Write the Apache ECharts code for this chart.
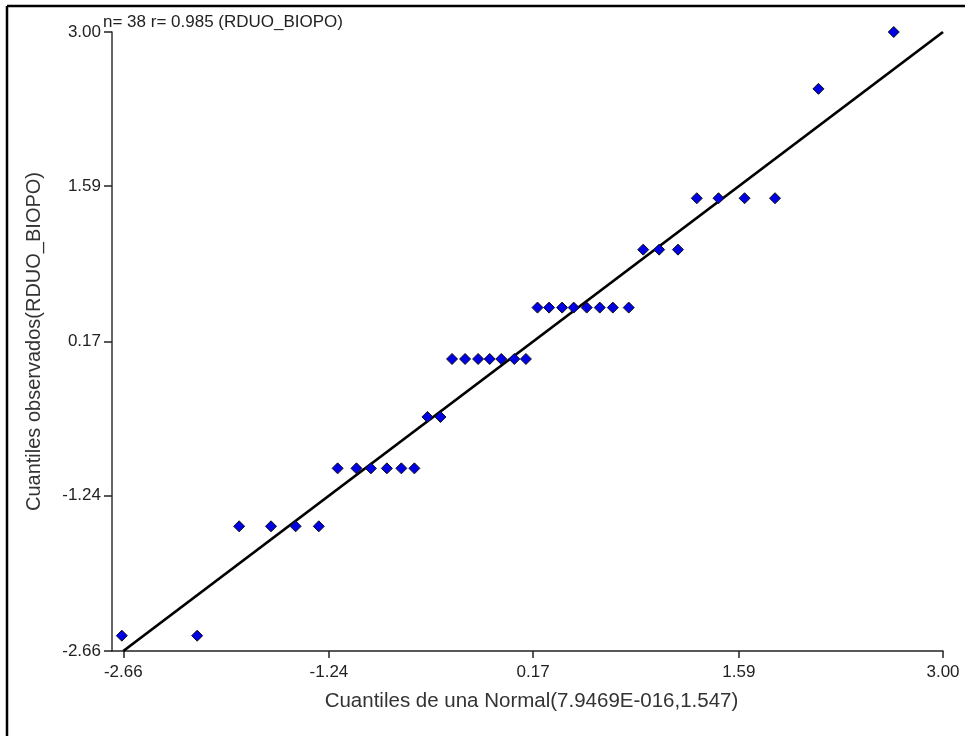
<!DOCTYPE html>
<html>
<head>
<meta charset="utf-8">
<script src="https://cdn.jsdelivr.net/npm/echarts@6/dist/echarts.min.js"></script>
<style>
html,body{margin:0;padding:0;background:#fff;}
#chart{width:965px;height:736px;}
</style>
</head>
<body>
<div id="chart"></div>
<script>
// Theoretical normal quantiles (x) and observed quantiles (y)
var theoretical = [-2.67, -2.15, -1.86, -1.64, -1.47, -1.31, -1.18, -1.05, -0.95, -0.84,
  -0.74, -0.65, -0.56, -0.47, -0.39, -0.30, -0.21, -0.13, -0.05, 0.04,
  0.12, 0.20, 0.28, 0.37, 0.45, 0.54, 0.63, 0.72, 0.83, 0.93,
  1.04, 1.17, 1.30, 1.45, 1.63, 1.84, 2.14, 2.66];
var observed = [-2.52, -2.52, -1.52, -1.52, -1.52, -1.52, -0.99, -0.99, -0.99, -0.99,
  -0.99, -0.99, -0.52, -0.52, 0.01, 0.01, 0.01, 0.01, 0.01, 0.01,
  0.01, 0.48, 0.48, 0.48, 0.48, 0.48, 0.48, 0.48, 0.48, 1.01,
  1.01, 1.01, 1.48, 1.48, 1.48, 1.48, 2.48, 3.00];
var refLineX = [-2.66, 3.00];
var refLineY = [-2.66, 3.00];
var xTicks = [-2.66, -1.24, 0.17, 1.59, 3.00];
var yTicks = [-2.66, -1.24, 0.17, 1.59, 3.00];
var titleText = 'n= 38 r= 0.985 (RDUO_BIOPO)';
var xName = 'Cuantiles de una Normal(7.9469E-016,1.547)';
var yName = 'Cuantiles observados(RDUO_BIOPO)';

var points = theoretical.map(function (x, i) { return [x, observed[i]]; });
var linePts = refLineX.map(function (x, i) { return [x, refLineY[i]]; });

var chart = echarts.init(document.getElementById('chart'), null, {renderer: 'canvas'});
var font = 'Liberation Sans, Arial, sans-serif';
chart.setOption({
  animation: false,
  backgroundColor: '#ffffff',
  grid: {left: 112, right: 22, top: 32, bottom: 85},
  xAxis: {
    type: 'value',
    min: -2.738,
    max: 3.00,
    name: xName,
    nameLocation: 'middle',
    nameGap: 40,
    nameTextStyle: {fontFamily: font, fontSize: 20.5, color: '#333', padding: [0, 0, 0, 8]},
    axisLine: {onZero: false, lineStyle: {color: '#222', width: 1.5}},
    axisTick: {show: true, length: 7, customValues: xTicks, lineStyle: {color: '#222', width: 1.5}},
    axisLabel: {customValues: xTicks, margin: 13, fontFamily: font, fontSize: 17, color: '#222',
      formatter: function (v) { return v.toFixed(2); }},
    splitLine: {show: false}
  },
  yAxis: {
    type: 'value',
    min: -2.66,
    max: 3.00,
    name: yName,
    nameLocation: 'middle',
    nameGap: 68,
    nameTextStyle: {fontFamily: font, fontSize: 20, color: '#333'},
    axisLine: {onZero: false, lineStyle: {color: '#333', width: 1.5}},
    axisTick: {show: true, length: 8, customValues: yTicks, lineStyle: {color: '#222', width: 1.5}},
    axisLabel: {customValues: yTicks, margin: 11, fontFamily: font, fontSize: 17, color: '#222',
      formatter: function (v) { return v.toFixed(2); }},
    splitLine: {show: false}
  },
  graphic: [
    {type: 'line', shape: {x1: 7, y1: 6, x2: 965, y2: 6}, style: {stroke: '#000', lineWidth: 2.5}},
    {type: 'line', shape: {x1: 7, y1: 6, x2: 7, y2: 736}, style: {stroke: '#000', lineWidth: 2.5}},
    {type: 'text', left: 103, top: 14, style: {text: titleText, fontFamily: font, fontSize: 17, fill: '#222'}}
  ],
  series: [
    {
      type: 'line',
      data: linePts,
      symbol: 'none',
      clip: false,
      lineStyle: {color: '#000', width: 2.8},
      z: 2
    },
    {
      type: 'scatter',
      data: points,
      symbol: 'diamond',
      symbolSize: 11,
      clip: false,
      itemStyle: {color: '#0000e6', borderColor: '#111', borderWidth: 1, opacity: 1},
      z: 3
    }
  ]
});
</script>
</body>
</html>
